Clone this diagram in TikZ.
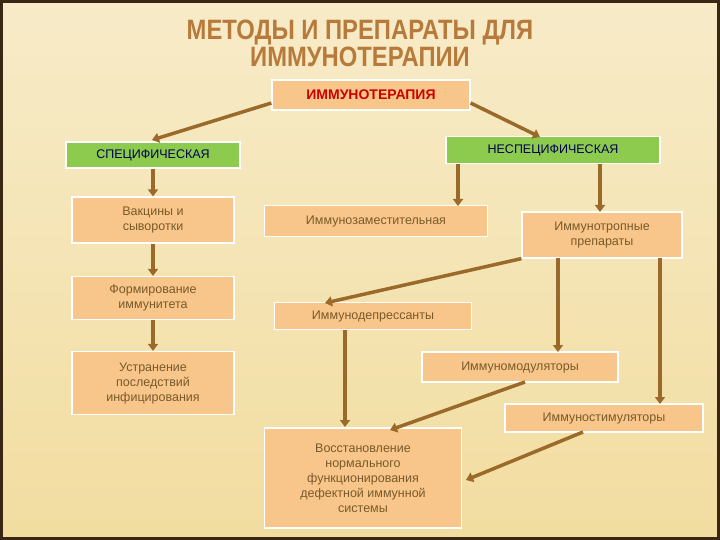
\documentclass[tikz,border=0pt]{standalone}
\usepackage{fontspec}
\setmainfont{Liberation Sans}
\usetikzlibrary{arrows.meta}
\definecolor{bgA}{HTML}{F7EBC8}
\definecolor{bgB}{HTML}{F2DDA0}
\definecolor{peach}{HTML}{F8C68A}
\definecolor{grn}{HTML}{8DCB4E}
\definecolor{arr}{HTML}{9A6A2A}
\definecolor{txt}{HTML}{7A5A2A}
\definecolor{ttl}{HTML}{B87A3A}
\tikzset{
 pbox/.style={fill=peach,draw=white,line width=1.2pt,align=center,text=txt,font=\fontsize{12.5}{15}\selectfont,inner sep=2pt},
 gbox/.style={fill=grn,draw=white,line width=1.2pt,align=center,text=blue!30!black,font=\fontsize{12.5}{15}\selectfont},
 con/.style={draw=arr,line width=3.5pt,-{Triangle[length=7pt,width=10pt]}},
}
\begin{document}
\begin{tikzpicture}[x=1pt,y=-1pt]
\useasboundingbox (0,0) rectangle (720,540);
\shade[top color=bgA,bottom color=bgB] (0,0) rectangle (720,540);
\draw[black!70!brown,line width=3pt] (1.5,1.5) rectangle (718.5,538.5);
\node[text=ttl,font=\bfseries\fontsize{28}{27}\selectfont,align=center,xscale=0.85] (title) at (360,43) {МЕТОДЫ  И  ПРЕПАРАТЫ  ДЛЯ\\ИММУНОТЕРАПИИ};
\node[pbox,minimum width=198pt,minimum height=30pt,text=red!80!black,font=\bfseries\fontsize{14}{16}\selectfont] (it) at (371,95) {ИММУНОТЕРАПИЯ};
\node[gbox,minimum width=174pt,minimum height=26pt] (sp) at (153,155) {СПЕЦИФИЧЕСКАЯ};
\node[gbox,minimum width=214pt,minimum height=27pt] (nsp) at (553,150) {НЕСПЕЦИФИЧЕСКАЯ};
\node[pbox,minimum width=162pt,minimum height=46pt] (vac) at (153,220) {Вакцины и\\сыворотки};
\node[pbox,minimum width=162pt,minimum height=43pt] (form) at (153,298) {Формирование\\иммунитета};
\node[pbox,minimum width=162pt,minimum height=63pt] (ustr) at (153,383) {Устранение\\последствий\\инфицирования};
\node[pbox,minimum width=223pt,minimum height=31pt] (zam) at (376,221) {Иммунозаместительная};
\node[pbox,minimum width=160pt,minimum height=46pt] (trop) at (602,235) {Иммунотропные\\препараты};
\node[pbox,minimum width=197pt,minimum height=27pt] (dep) at (373,316) {Иммунодепрессанты};
\node[pbox,minimum width=196pt,minimum height=30pt] (mod) at (520,367) {Иммуномодуляторы};
\node[pbox,minimum width=198pt,minimum height=28pt] (stim) at (604,418) {Иммуностимуляторы};
\node[pbox,minimum width=197pt,minimum height=100pt] (vos) at (363,478) {Восстановление\\нормального\\функционирования\\дефектной иммунной\\системы};
\draw[con] (it.west |- 0,103) -- (152,140);
\draw[con] (it.east |- 0,103) -- (540,137);
\draw[con] (sp.south) -- (vac.north);
\draw[con] (vac.south) -- (form.north);
\draw[con] (form.south) -- (ustr.north);
\draw[con] (458,164) -- (458,206);
\draw[con] (600,164) -- (600,212);
\draw[con] (trop.south west) -- (325,303);
\draw[con] (558,258) -- (558,352);
\draw[con] (660,258) -- (660,404);
\draw[con] (345,330) -- (345,427);
\draw[con] (525,382) -- (390,430);
\draw[con] (583,432) -- (466,480);
\end{tikzpicture}
\end{document}
